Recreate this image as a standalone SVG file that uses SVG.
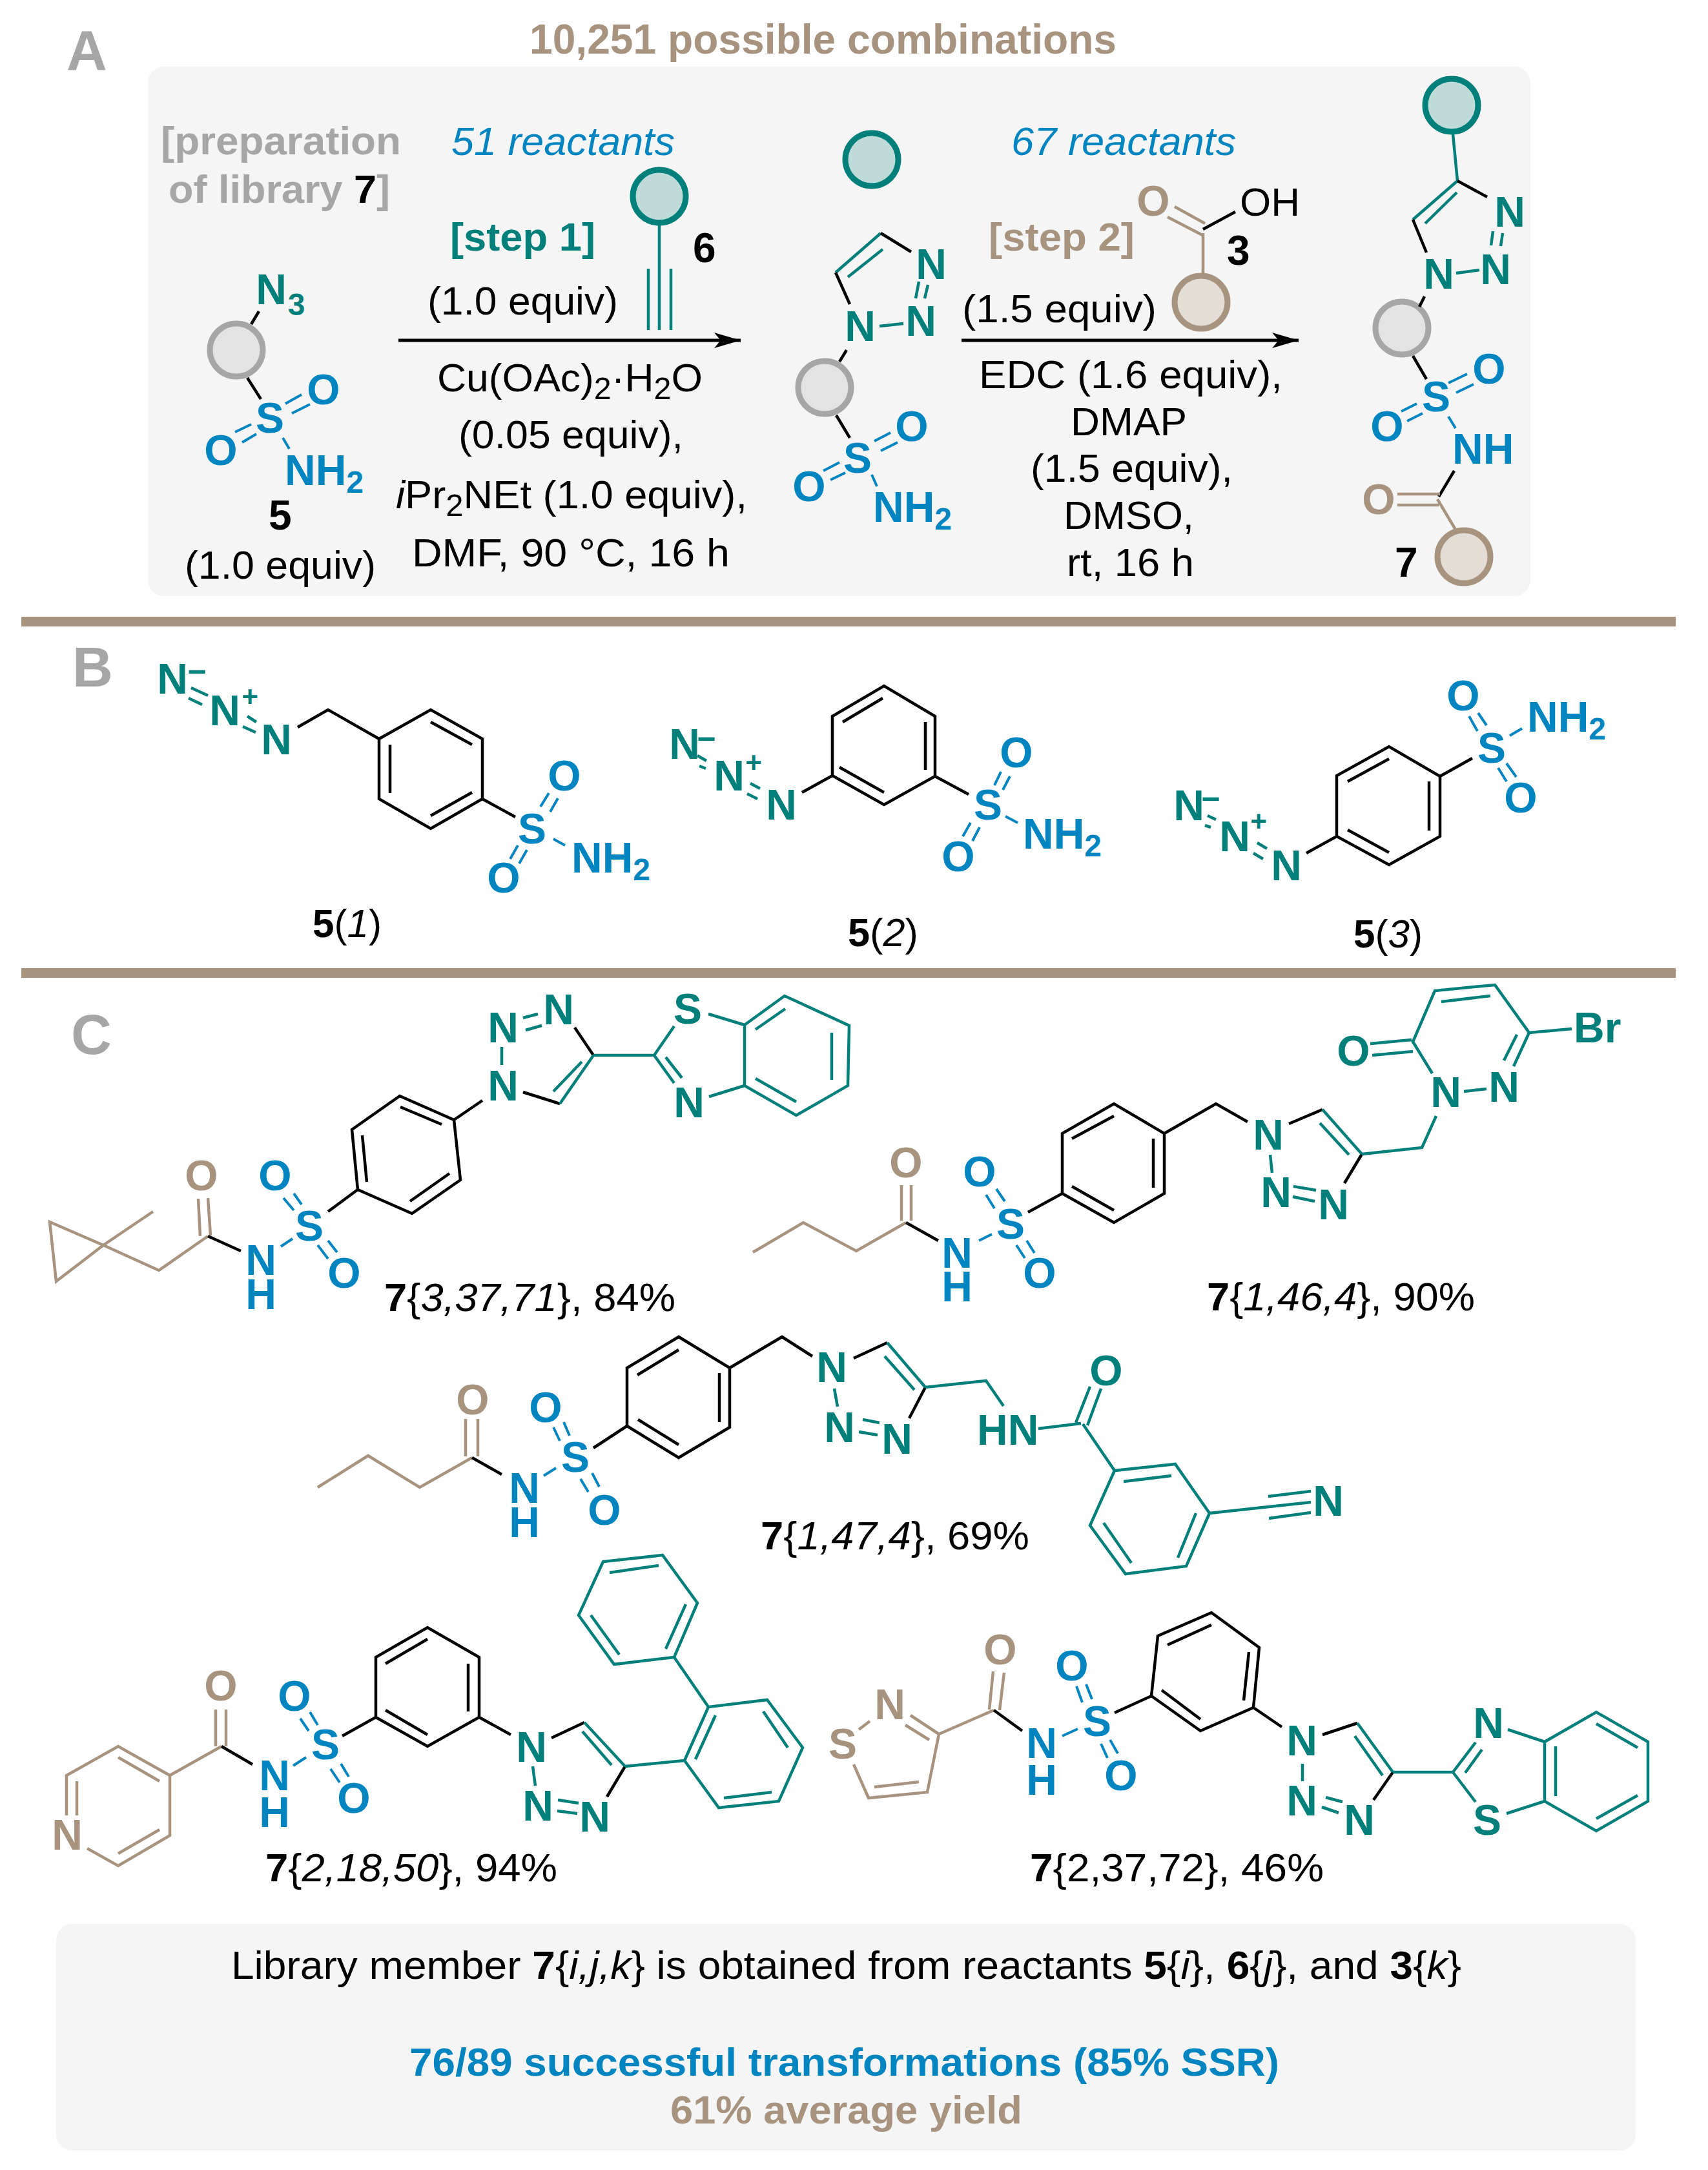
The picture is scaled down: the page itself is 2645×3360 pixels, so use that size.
<svg xmlns="http://www.w3.org/2000/svg" width="2645" height="3360" viewBox="0 0 2645 3360">
<style>
text{font-family:"Liberation Sans",Arial,sans-serif;font-size:62px;fill:#000}
.A{font-weight:700;text-anchor:middle;font-size:66px}
.Z{font-weight:700;font-size:66px}
.bd,.B{font-weight:700}
.n{font-weight:700;font-size:64px}
.i{font-style:italic}
.ft{fill:#007f7b}.fb{fill:#0085c0}.fa{fill:#a8937e}.fg{fill:#a6a6a6}
.sub{font-size:48px}
.big{font-size:87px;font-weight:700;fill:#a6a6a6}
path{fill:none;stroke-width:4.5;stroke-linecap:butt;stroke-linejoin:miter}
.k{stroke:#000}.t{stroke:#007f7b;stroke-width:4.5}.b{stroke:#0085c0;stroke-width:4}.a{stroke:#a8937e;stroke-width:4.5}
.panel{fill:#f5f5f5}
.rule{fill:#a8937e}
circle{stroke-width:9}
.ct{fill:#bfdbd9;stroke:#007f7b}.cg{fill:#e3e3e3;stroke:#a6a6a6}.ca{fill:#e3ddd6;stroke:#a8937e}
.ar{stroke:#000;stroke-width:5}
.hd{fill:#000;stroke:none}
</style>
<defs>
<marker id="head" markerUnits="userSpaceOnUse" markerWidth="42" markerHeight="24" refX="41" refY="12" orient="auto"><path class="hd" d="M41,12 L0,0 L10,12 L0,24 Z"/></marker>
</defs>
<rect class="panel" x="229" y="103" width="2141" height="820" rx="25"/>
<rect class="panel" x="87" y="2979" width="2446" height="351" rx="25"/>
<rect class="rule" x="33" y="955" width="2562" height="15"/>
<rect class="rule" x="33" y="1499" width="2562" height="15"/>
<text class="big" x="103" y="108">A</text>
<text class="big" x="112" y="1063">B</text>
<text class="big" x="110" y="1632">C</text>
<text class="B fa" x="820" y="83" style="font-size:64px" textLength="909" lengthAdjust="spacingAndGlyphs">10,251 possible combinations</text>

<g id="connectors">
<path class="ar" d="M617,527 H1147" marker-end="url(#head)"/>
<path class="ar" d="M1489,527 H2011" marker-end="url(#head)"/>
</g>

<g id="reaction-labels">
<text class="B fg" x="249" y="239" textLength="372" lengthAdjust="spacingAndGlyphs">[preparation</text>
<text class="B fg" x="261" y="314" textLength="343" lengthAdjust="spacingAndGlyphs">of library <tspan style="fill:#000">7</tspan>]</text>
<text class="i fb" x="699" y="240" textLength="346" lengthAdjust="spacingAndGlyphs">51 reactants</text>
<text class="B ft" x="697" y="388" textLength="225" lengthAdjust="spacingAndGlyphs">[step 1]</text>
<text x="662" y="487" textLength="295" lengthAdjust="spacingAndGlyphs">(1.0 equiv)</text>
<text x="677" y="606" textLength="411" lengthAdjust="spacingAndGlyphs">Cu(OAc)<tspan class="sub" dy="12">2</tspan><tspan dy="-12">·H</tspan><tspan class="sub" dy="12">2</tspan><tspan dy="-12">O</tspan></text>
<text x="710" y="694" textLength="348" lengthAdjust="spacingAndGlyphs">(0.05 equiv),</text>
<text x="613" y="787" textLength="544" lengthAdjust="spacingAndGlyphs"><tspan class="i">i</tspan>Pr<tspan class="sub" dy="12">2</tspan><tspan dy="-12">NEt (1.0 equiv),</tspan></text>
<text x="638" y="877" textLength="492" lengthAdjust="spacingAndGlyphs">DMF, 90 °C, 16 h</text>
<text class="i fb" x="1566" y="240" textLength="348" lengthAdjust="spacingAndGlyphs">67 reactants</text>
<text class="B fa" x="1531" y="388" textLength="226" lengthAdjust="spacingAndGlyphs">[step 2]</text>
<text x="1490" y="499" textLength="301" lengthAdjust="spacingAndGlyphs">(1.5 equiv)</text>
<text x="1516" y="601" textLength="470" lengthAdjust="spacingAndGlyphs">EDC (1.6 equiv),</text>
<text x="1658" y="674" textLength="180" lengthAdjust="spacingAndGlyphs">DMAP</text>
<text x="1596" y="746" textLength="313" lengthAdjust="spacingAndGlyphs">(1.5 equiv),</text>
<text x="1647" y="819" textLength="202" lengthAdjust="spacingAndGlyphs">DMSO,</text>
<text x="1652" y="892" textLength="197" lengthAdjust="spacingAndGlyphs">rt, 16 h</text>
</g>

<g id="reagent-5">
<circle class="cg" cx="366" cy="542" r="41"/>
<path class="k" d="M401,482 L389,502 M383,585 L404,618"/>
<path class="b" d="M442,625 L467,611 M452,640 L480,626 M364,669 L389,657 M375,685 L397,672 M438,678 L448,695"/>
<text class="A ft" x="420" y="471">N</text><text class="A ft sub" x="459" y="488">3</text>
<text class="A fb" x="418" y="670">S</text>
<text class="A fb" x="501" y="626">O</text>
<text class="A fb" x="342" y="720">O</text>
<text class="Z fb" x="441" y="751">NH<tspan class="sub" dy="12">2</tspan></text>
<text class="n" x="416" y="820">5</text>
<text x="286" y="896" textLength="296" lengthAdjust="spacingAndGlyphs">(1.0 equiv)</text>
</g>

<g id="reagent-6">
<circle class="ct" cx="1021" cy="304" r="41"/>
<path class="t" d="M1021,349 V511 M1004,416 V511 M1039,416 V511"/>
<text class="n" x="1073" y="406">6</text>
</g>

<g id="intermediate">
<circle class="ct" cx="1350" cy="247" r="41"/>
<circle class="cg" cx="1277" cy="600" r="41"/>
<path class="t" d="M1294,422 L1364,361 M1313,429 L1367,386 M1362,505 L1399,501 M1423,436 L1418,462 M1437,441 L1432,462"/>
<path class="k" d="M1294,422 L1316,471 M1364,361 L1411,390 M1311,542 L1300,560 M1295,643 L1316,678"/>
<path class="b" d="M1354,683 L1379,670 M1364,698 L1390,685 M1275,729 L1300,716 M1286,743 L1309,732 M1350,735 L1358,753"/>
<text class="A ft" x="1442" y="432">N</text>
<text class="A ft" x="1332" y="528">N</text>
<text class="A ft" x="1426" y="520">N</text>
<text class="A fb" x="1328" y="732">S</text>
<text class="A fb" x="1412" y="683">O</text>
<text class="A fb" x="1253" y="776">O</text>
<text class="Z fb" x="1352" y="808">NH<tspan class="sub" dy="12">2</tspan></text>
</g>

<g id="reagent-3">
<circle class="ca" cx="1860" cy="468" r="41"/>
<path class="a" d="M1819,320 L1866,346 M1808,336 L1862,364 M1863,361 V426"/>
<path class="k" d="M1863,355 L1913,328"/>
<text class="A fa" x="1786" y="334">O</text>
<text x="1920" y="334">OH</text>
<text class="n" x="1900" y="410">3</text>
</g>

<g id="product-7">
<circle class="ct" cx="2248" cy="163" r="41"/>
<circle class="cg" cx="2171" cy="508" r="41"/>
<circle class="ca" cx="2267" cy="862" r="41"/>
<path class="t" d="M2250,208 L2257,280 L2188,340 M2256,298 L2207,346 M2255,423 L2291,418 M2312,358 L2309,380 M2327,361 L2324,381"/>
<path class="k" d="M2257,280 L2303,305 M2188,340 L2209,391 M2206,459 L2198,475 M2188,551 L2209,587 M2252,729 L2228,769"/>
<path class="b" d="M2243,593 L2272,579 M2255,608 L2282,595 M2170,637 L2194,625 M2179,652 L2203,640 M2243,645 L2254,663"/>
<path class="a" d="M2164,765 H2230 M2164,782 H2228 M2226,773 L2254,820"/>
<text class="A ft" x="2338" y="351">N</text>
<text class="A ft" x="2228" y="447">N</text>
<text class="A ft" x="2316" y="440">N</text>
<text class="A fb" x="2224" y="637">S</text>
<text class="A fb" x="2306" y="594">O</text>
<text class="A fb" x="2148" y="683">O</text>
<text class="Z fb" x="2249" y="718">NH</text>
<text class="A fa" x="2135" y="796">O</text>
<text class="n" x="2160" y="893">7</text>
</g>

<g id="compound-5-1">
<path class="t" d="M296,1065 L322,1077 M292,1081 L313,1091 M383,1109 L397,1118 M376,1125 L396,1134"/>
<path class="k" d="M461,1126 L508,1099 L587,1144 M587,1144 L667,1099 L747,1144 V1237 L667,1283 L587,1237 Z M667,1118 L731,1153 M604,1153 V1228 M667,1263 L731,1227 M747,1237 L798,1265"/>
<path class="b" d="M837,1249 L850,1228 M852,1257 L864,1236 M790,1330 L802,1309 M804,1337 L816,1316 M857,1299 L875,1309"/>
<text class="A ft" x="267" y="1074">N</text><text class="A ft" style="font-size:50px" x="305" y="1057">−</text>
<text class="A ft" x="348" y="1123">N</text><text class="A ft" style="font-size:44px" x="387" y="1094">+</text>
<text class="A ft" x="428" y="1168">N</text>
<text class="A fb" x="824" y="1306">S</text>
<text class="A fb" x="874" y="1224">O</text>
<text class="A fb" x="780" y="1382">O</text>
<text class="Z fb" x="885" y="1351">NH<tspan class="sub" dy="12">2</tspan></text>
<text x="484" y="1451" textLength="107" lengthAdjust="spacingAndGlyphs"><tspan class="bd">5</tspan>(<tspan class="i">1</tspan>)</text>
</g>

<g id="compound-5-2">
<path class="t" d="M1080,1170 L1094,1178 M1083,1186 L1093,1190 M1162,1213 L1177,1221 M1157,1229 L1173,1237"/>
<path class="k" d="M1242,1227 L1289,1201 M1289,1201 V1109 L1369,1062 L1448,1109 V1202 L1369,1246 Z M1305,1118 L1367,1081 M1433,1118 V1192 M1300,1188 L1369,1227 M1448,1202 L1500,1230"/>
<path class="b" d="M1540,1216 L1550,1195 M1553,1223 L1564,1202 M1491,1295 L1503,1274 M1506,1302 L1517,1281 M1557,1264 L1576,1274"/>
<text class="A ft" x="1060" y="1175">N</text><text class="A ft" style="font-size:50px" x="1094" y="1161">−</text>
<text class="A ft" x="1129" y="1224">N</text><text class="A ft" style="font-size:44px" x="1167" y="1196">+</text>
<text class="A ft" x="1210" y="1269">N</text>
<text class="A fb" x="1530" y="1269">S</text>
<text class="A fb" x="1574" y="1188">O</text>
<text class="A fb" x="1484" y="1349">O</text>
<text class="Z fb" x="1584" y="1314">NH<tspan class="sub" dy="12">2</tspan></text>
<text x="1313" y="1465" textLength="109" lengthAdjust="spacingAndGlyphs"><tspan class="bd">5</tspan>(<tspan class="i">2</tspan>)</text>
</g>

<g id="compound-5-3">
<path class="t" d="M1870,1263 L1883,1269 M1866,1278 L1875,1281 M1947,1305 L1962,1314 M1941,1321 L1956,1330"/>
<path class="k" d="M2023,1321 L2070,1295 M2070,1295 V1201 L2151,1156 L2230,1202 V1295 L2151,1339 Z M2087,1210 L2151,1175 M2213,1210 V1286 M2087,1285 L2151,1320 M2230,1202 L2280,1174"/>
<path class="b" d="M2289,1104 L2302,1123 M2275,1109 L2288,1132 M2333,1182 L2348,1203 M2320,1189 L2333,1210 M2338,1139 L2357,1128"/>
<text class="A ft" x="1841" y="1270">N</text><text class="A ft" style="font-size:50px" x="1875" y="1254">−</text>
<text class="A ft" x="1912" y="1318">N</text><text class="A ft" style="font-size:44px" x="1949" y="1287">+</text>
<text class="A ft" x="1992" y="1363">N</text>
<text class="A fb" x="2310" y="1181">S</text>
<text class="A fb" x="2266" y="1100">O</text>
<text class="A fb" x="2355" y="1258">O</text>
<text class="Z fb" x="2365" y="1133">NH<tspan class="sub" dy="12">2</tspan></text>
<text x="2096" y="1467" textLength="107" lengthAdjust="spacingAndGlyphs"><tspan class="bd">5</tspan>(<tspan class="i">3</tspan>)</text>
</g>

<g id="compound-7-3-37-71">
<path class="a" d="M322,1914 L246,1967 L160,1928 L77,1892 L87,1984 L160,1928 L237,1876 M307,1856 L310,1914 M322,1855 L326,1913"/>
<path class="k" d="M373,1937 L322,1914 M508,1876 L554,1842 L545,1749 L619,1697 L703,1734 L713,1827 L638,1879 L554,1842 M620,1714 L684,1741 M561,1758 L568,1830 M635,1860 L696,1817 M747,1704 L703,1734 M890,1591 L919,1634 M867,1709 L810,1691"/>
<path class="b" d="M439,1855 L455,1874 M455,1848 L467,1865 M492,1928 L508,1949 M508,1921 L522,1939 M453,1918 L435,1930"/>
<path class="t" d="M777,1621 V1649 M810,1576 L833,1570 M814,1595 L839,1588 M919,1634 L867,1709 M901,1644 L857,1690 M919,1634 H1013 L1044,1589 M1013,1634 L1044,1677 M1031,1637 L1056,1669 M1097,1570 L1153,1587 M1098,1698 L1153,1681 M1153,1587 L1215,1542 L1315,1588 L1313,1681 L1233,1727 L1153,1681 Z M1170,1594 L1216,1562 M1288,1599 V1672 M1170,1670 L1233,1706"/>
<text class="A fa" x="312" y="1843">O</text>
<text class="A fb" x="404" y="1974">N</text><text class="A fb" x="404" y="2027">H</text>
<text class="A fb" x="479" y="1921">S</text>
<text class="A fb" x="426" y="1843">O</text>
<text class="A fb" x="533" y="1994">O</text>
<text class="A ft" x="779" y="1704">N</text>
<text class="A ft" x="779" y="1614">N</text>
<text class="A ft" x="865" y="1586">N</text>
<text class="A ft" x="1065" y="1585">S</text>
<text class="A ft" x="1067" y="1730">N</text>
<text x="595" y="2030" textLength="451" lengthAdjust="spacingAndGlyphs"><tspan class="bd">7</tspan>{<tspan class="i">3,37,71</tspan>}, 84%</text>
</g>

<g id="compound-7-1-46-4">
<path class="a" d="M1166,1939 L1244,1893 L1326,1937 L1403,1893 M1396,1835 V1890 M1411,1835 V1890"/>
<path class="k" d="M1403,1893 L1453,1921 M1592,1877 L1645,1848 V1755 L1725,1709 L1803,1755 V1848 L1725,1893 L1645,1848 M1660,1763 L1725,1728 M1786,1763 V1839 M1660,1837 L1725,1874 M1803,1755 L1883,1709 L1932,1737 M1996,1740 L2048,1718 M2109,1787 L2082,1832"/>
<path class="b" d="M1527,1850 L1540,1871 M1543,1841 L1556,1860 M1574,1928 L1587,1948 M1590,1921 L1602,1940 M1536,1911 L1516,1921"/>
<path class="t" d="M1967,1788 L1970,1816 M2003,1837 L2038,1843 M2002,1853 L2036,1860 M2048,1718 L2109,1787 M2044,1739 L2089,1788 M2109,1787 L2202,1777 L2224,1728 M2267,1690 L2302,1686 M2218,1662 L2188,1613 L2222,1534 L2315,1525 L2368,1599 L2344,1651 M2349,1602 L2329,1642 M2232,1551 L2308,1542 M2122,1616 L2186,1610 M2125,1634 L2188,1628 M2368,1599 L2434,1593"/>
<text class="A fa" x="1403" y="1823">O</text>
<text class="A fb" x="1482" y="1963">N</text><text class="A fb" x="1482" y="2015">H</text>
<text class="A fb" x="1565" y="1918">S</text>
<text class="A fb" x="1517" y="1837">O</text>
<text class="A fb" x="1610" y="1994">O</text>
<text class="A ft" x="1964" y="1780">N</text>
<text class="A ft" x="1976" y="1869">N</text>
<text class="A ft" x="2065" y="1888">N</text>
<text class="A ft" x="2239" y="1714">N</text>
<text class="A ft" x="2329" y="1706">N</text>
<text class="A ft" x="2096" y="1650">O</text>
<text class="Z ft" x="2437" y="1614">Br</text>
<text x="1869" y="2029" textLength="415" lengthAdjust="spacingAndGlyphs"><tspan class="bd">7</tspan>{<tspan class="i">1,46,4</tspan>}, 90%</text>
</g>

<g id="compound-7-1-47-4">
<path class="a" d="M492,2303 L570,2254 L650,2303 L731,2257 M721,2197 V2255 M740,2197 V2255"/>
<path class="k" d="M731,2257 L777,2283 M919,2242 L971,2208 V2118 L1051,2070 L1130,2118 V2210 L1051,2257 L971,2208 M987,2129 L1051,2090 M1114,2126 V2202 M988,2198 L1051,2237 M1130,2118 L1211,2070 L1258,2100 M1322,2103 L1374,2079 M1433,2148 L1408,2196"/>
<path class="b" d="M857,2210 L867,2231 M873,2202 L882,2223 M899,2290 L911,2310 M917,2281 L928,2302 M861,2273 L842,2285"/>
<path class="t" d="M1292,2150 L1297,2178 M1336,2198 L1362,2203 M1330,2217 L1359,2222 M1374,2079 L1433,2148 M1370,2100 L1416,2152 M1433,2148 L1527,2138 L1554,2177 M1608,2212 L1674,2204 M1666,2203 L1688,2147 M1684,2207 L1705,2150 M1677,2205 L1726,2277 L1820,2267 L1873,2343 L1837,2425 L1743,2437 L1688,2362 L1726,2277 M1740,2294 L1814,2285 M1852,2343 L1824,2412 M1709,2358 L1752,2420 M1873,2343 L2030,2326 M1964,2317 L2030,2309 M1965,2351 L2030,2342"/>
<text class="A fa" x="732" y="2190">O</text>
<text class="A fb" x="812" y="2327">N</text><text class="A fb" x="812" y="2380">H</text>
<text class="A fb" x="891" y="2279">S</text>
<text class="A fb" x="845" y="2202">O</text>
<text class="A fb" x="936" y="2361">O</text>
<text class="A ft" x="1288" y="2140">N</text>
<text class="A ft" x="1300" y="2233">N</text>
<text class="A ft" x="1389" y="2251">N</text>
<text class="Z ft" x="1513" y="2237">HN</text>
<text class="A ft" x="1713" y="2145">O</text>
<text class="A ft" x="2057" y="2347">N</text>
<text x="1178" y="2399" textLength="416" lengthAdjust="spacingAndGlyphs"><tspan class="bd">7</tspan>{<tspan class="i">1,47,4</tspan>}, 69%</text>
</g>

<g id="compound-7-2-18-50">
<path class="a" d="M103,2811 V2749 L183,2704 L263,2749 V2842 L183,2889 L135,2862 M119,2758 V2811 M183,2721 L247,2758 M183,2870 L247,2833 M263,2749 L343,2704 M334,2647 V2704 M350,2647 V2704"/>
<path class="k" d="M343,2704 L391,2732 M530,2688 L582,2659 V2566 L662,2520 L742,2566 V2659 L662,2704 L582,2659 M597,2576 L662,2538 M725,2576 V2650 M597,2648 L662,2686 M742,2659 L791,2686 M854,2691 L905,2667 M968,2735 L940,2782"/>
<path class="b" d="M465,2661 L478,2680 M480,2651 L492,2671 M512,2739 L526,2760 M528,2731 L540,2751 M474,2721 L454,2734"/>
<path class="t" d="M825,2735 L829,2765 M864,2787 L896,2792 M863,2804 L894,2808 M905,2667 L968,2735 M902,2681 L947,2733 M968,2735 L1060,2726 M1060,2726 L1097,2643 L1188,2632 L1243,2706 L1206,2789 L1113,2799 Z M1077,2724 L1108,2656 M1182,2650 L1220,2706 M1121,2784 L1195,2775 M1097,2643 L1044,2566 M1044,2566 L951,2577 L896,2501 L934,2418 L1026,2408 L1080,2482 Z M1031,2553 L1062,2484 M959,2562 L915,2501 M944,2435 L1020,2424"/>
<text class="A fa" x="104" y="2864">N</text>
<text class="A fa" x="342" y="2633">O</text>
<text class="A fb" x="425" y="2772">N</text><text class="A fb" x="425" y="2829">H</text>
<text class="A fb" x="504" y="2724">S</text>
<text class="A fb" x="456" y="2649">O</text>
<text class="A fb" x="548" y="2807">O</text>
<text class="A ft" x="823" y="2728">N</text>
<text class="A ft" x="833" y="2819">N</text>
<text class="A ft" x="921" y="2836">N</text>
<text x="411" y="2913" textLength="452" lengthAdjust="spacingAndGlyphs"><tspan class="bd">7</tspan>{<tspan class="i">2,18,50</tspan>}, 94%</text>
</g>

<g id="compound-7-2-37-72">
<path class="a" d="M1330,2678 L1347,2665 M1410,2656 L1454,2685 M1402,2671 L1439,2694 M1454,2685 L1436,2775 L1345,2784 L1322,2732 M1354,2767 L1423,2759 M1454,2685 L1539,2648 M1532,2647 L1538,2588 M1548,2648 L1555,2590"/>
<path class="k" d="M1539,2648 L1583,2680 M1726,2652 L1783,2626 L1793,2533 L1876,2497 L1950,2551 L1941,2644 L1859,2680 L1783,2626 M1808,2547 L1876,2516 M1934,2558 L1926,2633 M1799,2617 L1859,2662 M1941,2644 L1985,2674 M2048,2686 L2102,2668 M2157,2744 L2127,2787"/>
<path class="b" d="M1667,2611 L1676,2636 M1682,2608 L1691,2631 M1705,2700 L1715,2722 M1719,2694 L1731,2715 M1669,2677 L1645,2688"/>
<path class="t" d="M2017,2731 V2758 M2053,2783 L2079,2790 M2047,2798 L2073,2807 M2102,2668 L2157,2744 M2098,2688 L2141,2749 M2157,2744 H2250 L2285,2698 M2269,2745 L2295,2709 M2250,2744 L2285,2790 M2335,2678 L2392,2697 M2333,2808 L2392,2789 M2392,2697 L2472,2651 L2552,2697 V2789 L2472,2835 L2392,2789 Z M2409,2704 V2781 M2472,2669 L2536,2706 M2472,2816 L2536,2780"/>
<text class="A fa" x="1305" y="2723">S</text>
<text class="A fa" x="1378" y="2662">N</text>
<text class="A fa" x="1549" y="2577">O</text>
<text class="A fb" x="1613" y="2722">N</text><text class="A fb" x="1613" y="2779">H</text>
<text class="A fb" x="1699" y="2688">S</text>
<text class="A fb" x="1660" y="2602">O</text>
<text class="A fb" x="1736" y="2772">O</text>
<text class="A ft" x="2016" y="2718">N</text>
<text class="A ft" x="2016" y="2811">N</text>
<text class="A ft" x="2105" y="2841">N</text>
<text class="A ft" x="2305" y="2691">N</text>
<text class="A ft" x="2303" y="2841">S</text>
<text x="1595" y="2913" textLength="455" lengthAdjust="spacingAndGlyphs"><tspan class="bd">7</tspan>{2,37,72}, 46%</text>
</g>

<g id="summary">
<text x="358" y="3064" textLength="1905" lengthAdjust="spacingAndGlyphs">Library member <tspan class="bd">7</tspan>{<tspan class="i">i,j,k</tspan>} is obtained from reactants <tspan class="bd">5</tspan>{<tspan class="i">i</tspan>}, <tspan class="bd">6</tspan>{<tspan class="i">j</tspan>}, and <tspan class="bd">3</tspan>{<tspan class="i">k</tspan>}</text>
<text class="B fb" x="634" y="3214" textLength="1347" lengthAdjust="spacingAndGlyphs">76/89 successful transformations (85% SSR)</text>
<text class="B fa" x="1038" y="3288" textLength="545" lengthAdjust="spacingAndGlyphs">61% average yield</text>
</g>
</svg>
